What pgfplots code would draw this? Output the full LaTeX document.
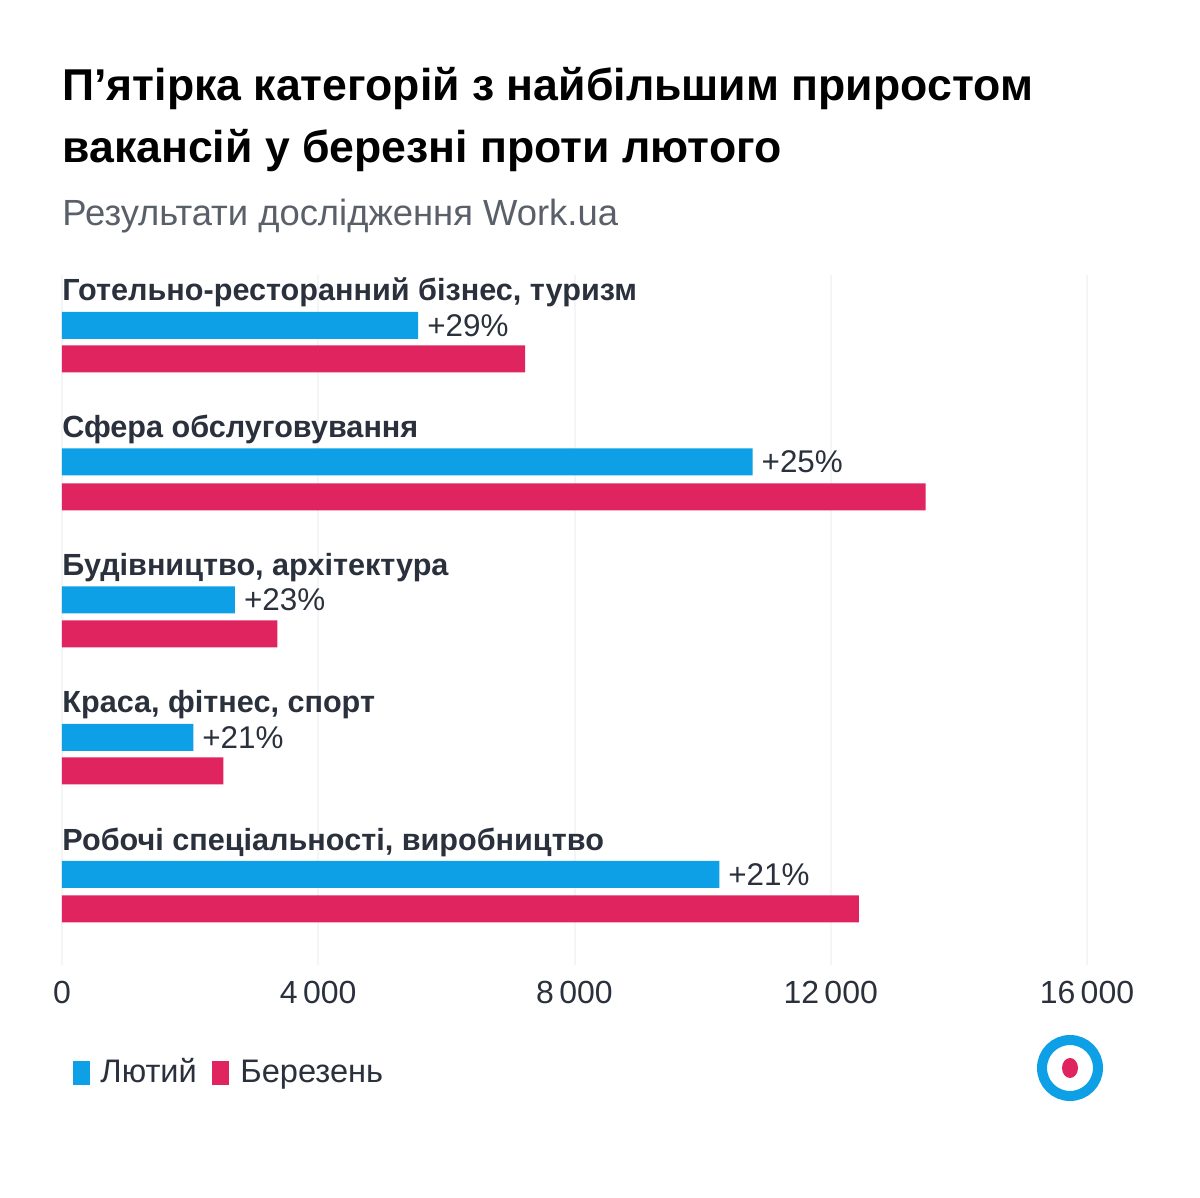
\documentclass[border=0pt]{standalone}
\usepackage{fontspec}
\setmainfont{Liberation Sans}
\usepackage{pgfplots}
\pgfplotsset{compat=1.18}
\definecolor{cblue}{HTML}{0DA0E6}
\definecolor{cred}{HTML}{E02460}
\definecolor{ctext}{HTML}{2A313C}
\definecolor{csub}{HTML}{5A6069}
\definecolor{cgrid}{HTML}{F4F5F6}
\begin{document}
\begin{tikzpicture}
\begin{scope}[x=0.5pt,y=-0.5pt,shift={(-31pt,482.5pt)}]
\path[fill=white, use as bounding box] (0,0) rectangle (1200,1198);
\end{scope}
\begin{axis}[
  at={(0pt,0pt)}, anchor=south west, scale only axis,
  width=512.5pt, height=345pt,
  xmin=0, xmax=16000, ymin=-965, ymax=-275,
  axis line style={draw=none}, tick style={draw=none},
  ytick=\empty, scaled x ticks=false,
  xtick={0,4000,8000,12000,16000},
  xticklabels={0,4\,000,8\,000,12\,000,16\,000},
  xticklabel style={font=\fontsize{16pt}{19pt}\selectfont, text=ctext, anchor=base, yshift=-19.5pt},
  xmajorgrids, grid style={cgrid, line width=1pt},
  xbar, bar width=27, bar shift=0pt,
  clip=false,
]
\addplot[fill=cblue, draw=none, nodes near coords, point meta=explicit symbolic,
  nodes near coords style={anchor=west, font=\fontsize{15.7pt}{18pt}\selectfont, text=ctext, xshift=1pt}]
  coordinates {(5560,-325.5) [+29\%] (10780,-462) [+25\%] (2700,-600) [+23\%] (2050,-737.5) [+21\%] (10260,-874.5) [+21\%]};
\addplot[fill=cred, draw=none]
  coordinates {(7230,-359) (13480,-497) (3360,-634) (2520,-771) (12440,-909)};
\end{axis}
\begin{scope}[x=0.5pt,y=-0.5pt,shift={(-31pt,482.5pt)}]
\node[anchor=base west, inner sep=0pt, text=black, font=\fontsize{22.3pt}{26pt}\selectfont\bfseries] at (62,101) {П’ятірка категорій з найбільшим приростом};
\node[anchor=base west, inner sep=0pt, text=black, font=\fontsize{22.3pt}{26pt}\selectfont\bfseries] at (62,163) {вакансій у березні проти лютого};
\node[anchor=base west, inner sep=0pt, text=csub, font=\fontsize{18.2pt}{21pt}\selectfont] at (62,226) {Результати дослідження Work.ua};
\foreach \yy/\lab in {301/{Готельно-ресторанний бізнес, туризм}, 438/{Сфера обслуговування}, 576/{Будівництво, архітектура}, 713/{Краса, фітнес, спорт}, 851/{Робочі спеціальності, виробництво}}{
  \node[anchor=base west, inner sep=0pt, text=ctext, font=\fontsize{15.3pt}{18pt}\selectfont\bfseries] at (62,\yy) {\lab};
}
% legend
\fill[cblue] (73,1061) rectangle (90,1085);
\node[anchor=base west, inner sep=0pt, text=ctext, font=\fontsize{16.3pt}{19pt}\selectfont] at (100,1083) {Лютий};
\fill[cred] (212,1061) rectangle (229,1085);
\node[anchor=base west, inner sep=0pt, text=ctext, font=\fontsize{16.3pt}{19pt}\selectfont] at (240,1083) {Березень};
% logo
\draw[cblue, line width=5pt] (1070,1068) circle[radius=28];
\fill[cred] (1070,1068) ellipse[x radius=8, y radius=10];
\end{scope}
\end{tikzpicture}
\end{document}
